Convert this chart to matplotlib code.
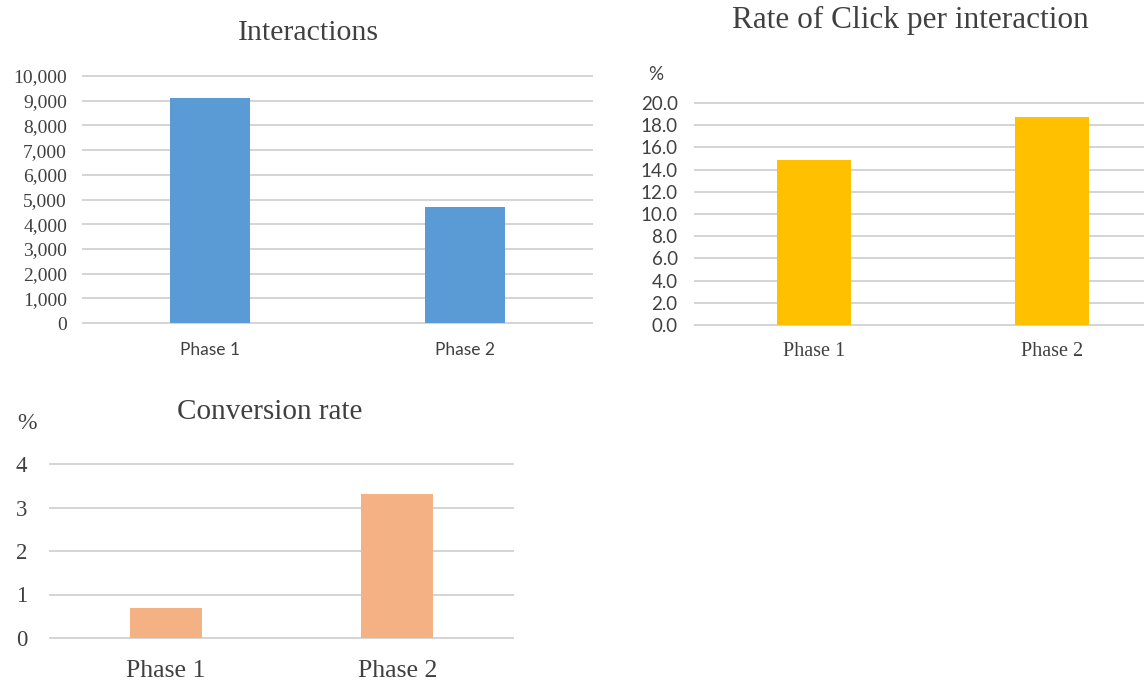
import matplotlib.pyplot as plt
from matplotlib.ticker import StrMethodFormatter

# Campaign metrics by phase
phases = ["Phase 1", "Phase 2"]
interactions = [9120, 4680]
click_rate = [14.9, 18.7]
conversion_rate = [0.7, 3.3]

W, H = 1144, 681
GRID = "#d4d4d4"
TXT = "#404040"
SERIF = "Liberation Serif"
SANS = "Lato"


def rect(x0, x1, ytop, ybot):
    # axes rectangle given in pixel coordinates (origin top-left)
    return [x0 / W, 1 - ybot / H, (x1 - x0) / W, (ybot - ytop) / H]


def bar_panel(ax, values, color, ticks, fmt, width, tick_font, tick_size, tick_pad,
              xl_font, xl_size, xl_pad):
    x = range(len(values))
    ax.bar(x, values, width=width, color=color, zorder=2)
    ax.set_xlim(-0.5, len(values) - 0.5)
    ax.set_ylim(ticks[0], ticks[-1])
    for t in ticks:
        ax.axhline(t, color=GRID, lw=1.4, zorder=0, clip_on=False)
    ax.set_yticks(ticks)
    ax.yaxis.set_major_formatter(StrMethodFormatter(fmt))
    ax.set_xticks(list(x), phases)
    ax.tick_params(axis="y", length=0, pad=tick_pad, labelsize=tick_size, labelcolor=TXT)
    ax.tick_params(axis="x", length=0, pad=xl_pad, labelsize=xl_size, labelcolor=TXT)
    for lab in ax.get_yticklabels():
        lab.set_fontfamily(tick_font)
    for lab in ax.get_xticklabels():
        lab.set_fontfamily(xl_font)
    for s in ax.spines.values():
        s.set_visible(False)
    ax.set_facecolor("none")


fig = plt.figure(figsize=(W / 100, H / 100), dpi=100)

ax1 = fig.add_axes(rect(83, 592, 76, 323))
bar_panel(ax1, interactions, "#5b9bd5", list(range(0, 10001, 1000)), "{x:,.0f}", 0.315,
          SERIF, 14, 11.5, SANS, 12.5, 13.5)
fig.text(308 / W, 1 - 33 / H, "Interactions", family=SERIF, fontsize=21.5,
         color=TXT, ha="center", va="center")

ax2 = fig.add_axes(rect(695, 1171, 103, 325))
bar_panel(ax2, click_rate, "#ffc000", [i * 2.0 for i in range(11)], "{x:.1f}", 0.31,
          SANS, 13.5, 12.5, SERIF, 14.5, 12)
fig.text(910 / W, 1 - 20 / H, "Rate of Click per interaction", family=SERIF,
         fontsize=22.5, color=TXT, ha="center", va="center")
fig.text(656 / W, 1 - 75 / H, "%", family=SANS, fontsize=13.5, color=TXT,
         ha="center", va="center")

ax3 = fig.add_axes(rect(50, 513, 464, 638))
bar_panel(ax3, conversion_rate, "#f4b183", [0, 1, 2, 3, 4], "{x:.0f}", 0.31,
          SERIF, 16.5, 16.5, SERIF, 18.5, 15.5)
fig.text(270 / W, 1 - 412 / H, "Conversion rate", family=SERIF, fontsize=21,
         color=TXT, ha="center", va="center")
fig.text(27 / W, 1 - 423 / H, "%", family=SERIF, fontsize=17, color=TXT,
         ha="center", va="center")

fig.savefig("out.png", dpi=100)
